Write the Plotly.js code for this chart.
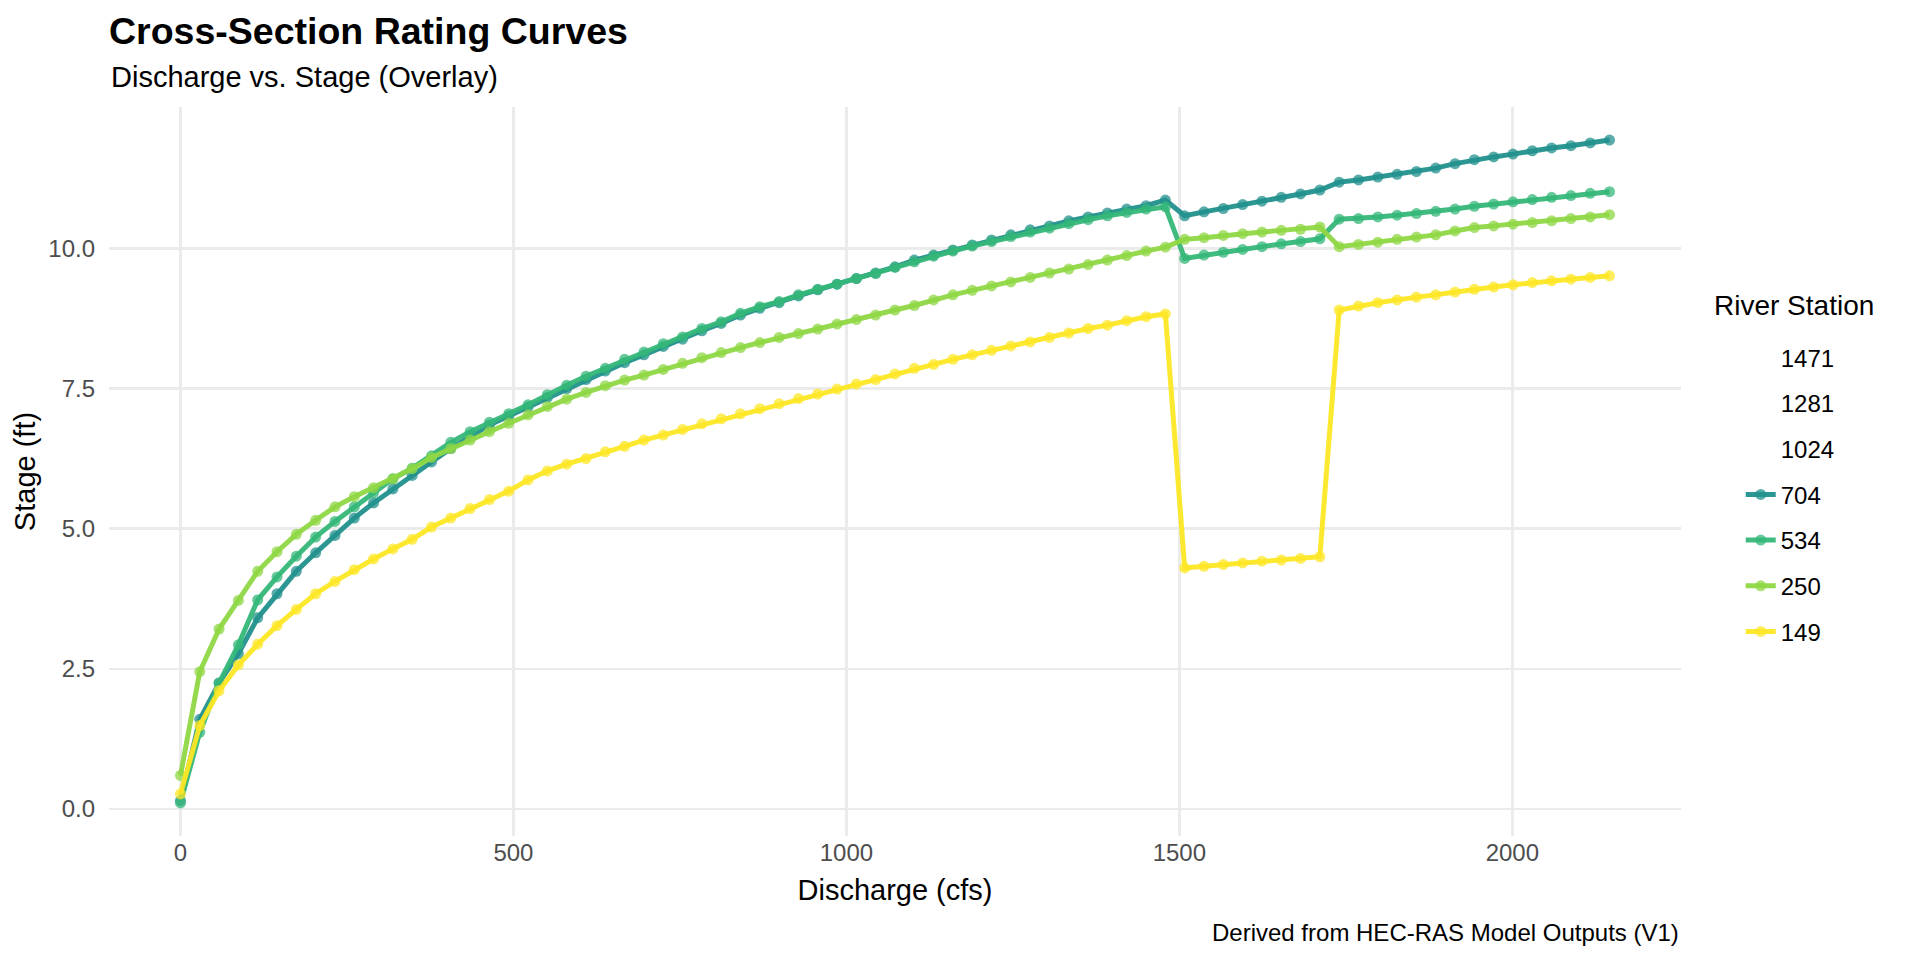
<!DOCTYPE html>
<html>
<head>
<meta charset="utf-8">
<script src="https://cdn.plot.ly/plotly-3.0.1.min.js"></script>
<style>
  html, body { margin: 0; padding: 0; background: #ffffff; }
  #plot { width: 1920px; height: 960px; }
</style>
</head>
<body>
<div id="plot"></div>
<script>
// ======================= DATA =======================
const discharge = [
  0, 29, 58, 87, 116, 145, 174, 203, 232, 261, 290, 319, 348, 377, 406,
  435, 464, 493, 522, 551, 580, 609, 638, 667, 696, 725, 754, 783, 812, 841,
  870, 899, 928, 957, 986, 1015, 1044, 1073, 1102, 1131, 1160, 1189, 1218, 1247, 1276,
  1305, 1334, 1363, 1392, 1421, 1450, 1479, 1508, 1537, 1566, 1595, 1624, 1653, 1682, 1711,
  1740, 1769, 1798, 1827, 1856, 1885, 1914, 1943, 1972, 2001, 2030, 2059, 2088, 2117, 2146
];

const stations = ['1471', '1281', '1024', '704', '534', '250', '149'];
const stationColors = ['#440154', '#443A83', '#31688E', '#21908C', '#35B779', '#8FD744', '#FDE725'];

// stations 1471, 1281 and 1024 have no rating points
const stage_704 = [
  0.15, 1.60, 2.25, 2.77, 3.41, 3.84, 4.24, 4.57, 4.88, 5.19, 5.46, 5.71, 5.95, 6.19, 6.43,
  6.65, 6.85, 7.01, 7.17, 7.34, 7.50, 7.66, 7.81, 7.96, 8.10, 8.25, 8.38, 8.53, 8.66, 8.81,
  8.93, 9.03, 9.15, 9.26, 9.36, 9.46, 9.56, 9.67, 9.79, 9.88, 9.97, 10.06, 10.15, 10.24, 10.33,
  10.40, 10.49, 10.56, 10.63, 10.70, 10.76, 10.86, 10.58, 10.65, 10.71, 10.78, 10.84, 10.91, 10.97, 11.04,
  11.18, 11.22, 11.27, 11.32, 11.37, 11.43, 11.51, 11.58, 11.63, 11.68, 11.74, 11.79, 11.83, 11.88, 11.93
];
const stage_534 = [
  0.11, 1.37, 2.25, 2.93, 3.73, 4.14, 4.51, 4.85, 5.13, 5.39, 5.64, 5.89, 6.08, 6.30, 6.54,
  6.73, 6.90, 7.05, 7.21, 7.39, 7.56, 7.72, 7.86, 8.02, 8.15, 8.30, 8.42, 8.57, 8.69, 8.84,
  8.96, 9.05, 9.17, 9.27, 9.36, 9.46, 9.55, 9.66, 9.76, 9.86, 9.95, 10.04, 10.12, 10.21, 10.29,
  10.36, 10.44, 10.51, 10.58, 10.64, 10.70, 10.74, 9.82, 9.88, 9.93, 9.98, 10.03, 10.08, 10.12, 10.17,
  10.52, 10.53, 10.56, 10.59, 10.62, 10.66, 10.70, 10.75, 10.79, 10.83, 10.87, 10.91, 10.94, 10.98, 11.01
];
const stage_250 = [
  0.60, 2.45, 3.21, 3.72, 4.24, 4.59, 4.90, 5.15, 5.39, 5.57, 5.73, 5.89, 6.07, 6.27, 6.43,
  6.58, 6.73, 6.88, 7.03, 7.18, 7.31, 7.43, 7.55, 7.65, 7.74, 7.84, 7.95, 8.05, 8.14, 8.23,
  8.32, 8.41, 8.48, 8.56, 8.65, 8.73, 8.81, 8.90, 8.98, 9.08, 9.17, 9.25, 9.33, 9.40, 9.48,
  9.56, 9.63, 9.71, 9.79, 9.87, 9.95, 10.02, 10.16, 10.19, 10.23, 10.26, 10.29, 10.32, 10.34, 10.38,
  10.03, 10.07, 10.11, 10.16, 10.20, 10.24, 10.31, 10.37, 10.40, 10.43, 10.46, 10.49, 10.53, 10.56, 10.60
];
const stage_149 = [
  0.27, 1.49, 2.11, 2.57, 2.94, 3.27, 3.56, 3.84, 4.06, 4.27, 4.46, 4.64, 4.81, 5.03, 5.19,
  5.36, 5.52, 5.67, 5.87, 6.03, 6.15, 6.25, 6.37, 6.47, 6.58, 6.67, 6.77, 6.87, 6.96, 7.05,
  7.14, 7.23, 7.32, 7.40, 7.49, 7.58, 7.66, 7.76, 7.86, 7.93, 8.02, 8.10, 8.18, 8.26, 8.33,
  8.41, 8.49, 8.57, 8.63, 8.71, 8.78, 8.83, 4.30, 4.33, 4.36, 4.39, 4.42, 4.44, 4.47, 4.50,
  8.90, 8.97, 9.03, 9.08, 9.13, 9.17, 9.22, 9.27, 9.31, 9.35, 9.39, 9.42, 9.45, 9.48, 9.51
];

const stageByStation = { '704': stage_704, '534': stage_534, '250': stage_250, '149': stage_149 };

const xTicks = [0, 500, 1000, 1500, 2000];
const yTicks = [0, 2.5, 5, 7.5, 10];

// ======================= PLOT =======================
const FONT = 'Liberation Sans, Arial, Helvetica, sans-serif';

function hexToRgba(hex, a) {
  const n = parseInt(hex.slice(1), 16);
  return 'rgba(' + ((n >> 16) & 255) + ',' + ((n >> 8) & 255) + ',' + (n & 255) + ',' + a + ')';
}

const traces = stations.map((st, i) => {
  const y = stageByStation[st];
  if (!y) {
    // level with no data: legend label only, blank key
    return {
      x: [null], y: [null], name: st, legendgroup: st, type: 'scatter', mode: 'lines',
      line: { color: stationColors[i], width: 0 }, hoverinfo: 'skip', showlegend: true
    };
  }
  return {
    x: discharge, y: y, name: st, legendgroup: st, type: 'scatter', mode: 'lines+markers',
    line: { color: hexToRgba(stationColors[i], 0.95), width: 5 },
    marker: { color: stationColors[i], size: 11, opacity: 0.75, line: { width: 0 } },
    showlegend: true
  };
});

const layout = {
  width: 1920, height: 960,
  paper_bgcolor: '#ffffff', plot_bgcolor: '#ffffff',
  margin: { l: 109, r: 239, t: 107, b: 124, pad: 0 },
  font: { family: FONT, color: '#000000', size: 24 },
  title: {
    text: '<b>Cross-Section Rating Curves</b>',
    font: { family: FONT, size: 37.5, color: '#000000' },
    xref: 'paper', x: 0, xanchor: 'left',
    yref: 'container', y: 0.982, yanchor: 'top'
  },
  xaxis: {
    range: [-107.3, 2253.3], tickvals: xTicks, ticktext: xTicks.map(String),
    showgrid: true, gridcolor: '#EBEBEB', gridwidth: 2.6, zeroline: false, showline: false,
    ticks: '', tickfont: { family: FONT, size: 24, color: '#4D4D4D' },
    title: { text: 'Discharge (cfs)', font: { family: FONT, size: 29, color: '#000000' }, standoff: 14 },
    automargin: false
  },
  yaxis: {
    range: [-0.48, 12.52], tickvals: yTicks, ticktext: yTicks.map(v => v.toFixed(1)),
    showgrid: true, gridcolor: '#EBEBEB', gridwidth: 2.6, zeroline: false, showline: false,
    ticks: '', ticklabelstandoff: 13, tickfont: { family: FONT, size: 24, color: '#4D4D4D' },
    title: { text: 'Stage (ft)', font: { family: FONT, size: 29, color: '#000000' }, standoff: 4 },
    automargin: false
  },
  legend: {
    font: { family: FONT, size: 24, color: '#000000' },
    x: 1.038, xanchor: 'left', xref: 'paper',
    y: 0.687, yanchor: 'top',
    traceorder: 'grouped', tracegroupgap: 11.5,
    bgcolor: 'rgba(0,0,0,0)', borderwidth: 0
  },
  annotations: [
    {
      text: 'Discharge vs. Stage (Overlay)', xref: 'paper', yref: 'paper',
      x: 0, y: (836 - 77) / 729, xanchor: 'left', yanchor: 'middle', showarrow: false,
      font: { family: FONT, size: 29, color: '#000000' }
    },
    {
      text: 'Derived from HEC-RAS Model Outputs (V1)', xref: 'paper', yref: 'paper',
      x: 1, y: (836 - 932) / 729, xanchor: 'right', yanchor: 'middle', showarrow: false,
      font: { family: FONT, size: 24, color: '#000000' }
    },
    {
      // legend title
      text: 'River Station', xref: 'paper', yref: 'paper',
      x: (1712 - 109) / 1572, y: (836 - 305) / 729, xanchor: 'left', yanchor: 'middle', showarrow: false,
      font: { family: FONT, size: 28, color: '#000000' }
    }
  ],
  showlegend: true,
  hovermode: 'closest'
};

Plotly.newPlot('plot', traces, layout, { displayModeBar: false, staticPlot: true });
</script>
</body>
</html>
